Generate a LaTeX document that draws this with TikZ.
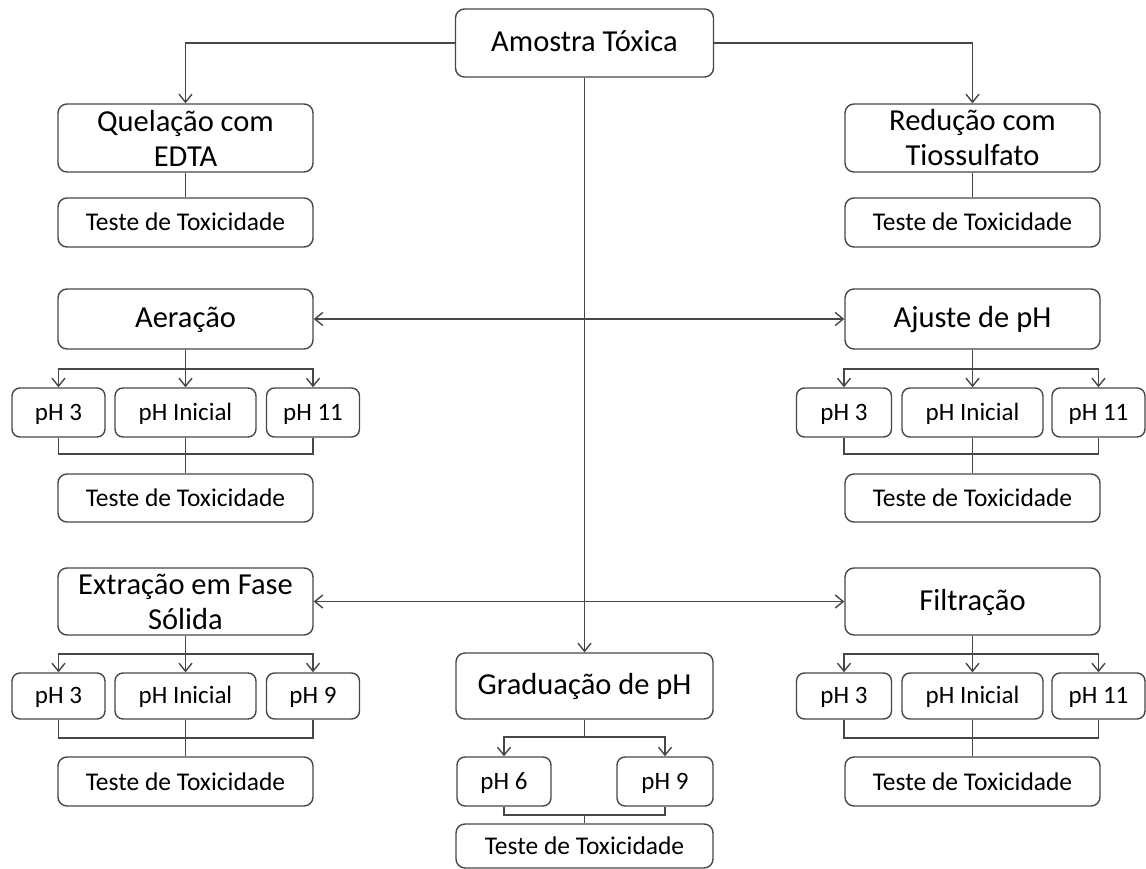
\documentclass[tikz,border=0pt]{standalone}
\usepackage{fontspec}
\setmainfont{Carlito}
\usetikzlibrary{arrows.meta}
\begin{document}
\begin{tikzpicture}[x=1pt,y=-1pt,
 box/.style={draw=black!72, line width=1.4pt, rounded corners=9pt, inner sep=0pt, align=center, text=black},
 big/.style={box, font=\fontsize{30.5}{35}\selectfont},
 bigone/.style={big, text height=21pt, text depth=4pt},
 small/.style={box, font=\fontsize{25.5}{30}\selectfont, text height=18pt, text depth=1pt},
 ph/.style={box, rounded corners=8pt, font=\fontsize{25}{29}\selectfont, text height=18pt, text depth=3pt},
 ln/.style={draw=black!72, line width=1.4pt},
 arr/.style={ln, -{Straight Barb[length=8pt,width=13pt]}},
 darr/.style={ln, {Straight Barb[length=8pt,width=13pt]}-{Straight Barb[length=8pt,width=13pt]}}
]
\useasboundingbox (0,0) rectangle (1146,869);

% top
\node[bigone, minimum width=258pt, minimum height=68pt] (am) at (584.5,43) {Amostra Tóxica};
\node[big, minimum width=255pt, minimum height=68pt] (quel) at (185.5,138) {Quelação com\\EDTA};
\node[small, minimum width=255pt, minimum height=49pt] (qt) at (185.5,222.5) {Teste de Toxicidade};
\node[big, minimum width=255pt, minimum height=68pt] (red) at (972.5,138) {Redução com\\Tiossulfato};
\node[small, minimum width=255pt, minimum height=49pt] (rt) at (972.5,222.5) {Teste de Toxicidade};

\draw[arr] (am.west) -| (quel.north);
\draw[arr] (am.east) -| (red.north);
\draw[ln] (quel.south) -- (qt.north);
\draw[ln] (red.south) -- (rt.north);

% Aeracao group
\node[bigone, minimum width=255pt, minimum height=60pt] (aer) at (185.5,319) {Aeração};
\node[ph, minimum width=93pt, minimum height=49pt] (aph3) at (58.5,412.5) {pH 3};
\node[ph, minimum width=141pt, minimum height=49pt] (aphi) at (185.5,412.5) {pH Inicial};
\node[ph, minimum width=93pt, minimum height=49pt] (aph11) at (313,412.5) {pH 11};
\node[small, minimum width=255pt, minimum height=48pt] (at) at (185.5,498) {Teste de Toxicidade};
\coordinate (ab) at (185.5,369);
\coordinate (ac) at (185.5,454);
\draw[arr] (aer.south) -- (aphi.north);
\draw[arr] (ab) -| (aph3.north);
\draw[arr] (ab) -| (aph11.north);
\draw[ln] (aph3.south) |- (ac) -| (aph11.south);
\draw[ln] (aphi.south) -- (at.north);

% Ajuste group
\node[bigone, minimum width=255pt, minimum height=60pt] (aju) at (972.5,319) {Ajuste de pH};
\node[ph, minimum width=95pt, minimum height=49pt] (bph3) at (844,412.5) {pH 3};
\node[ph, minimum width=141pt, minimum height=49pt] (bphi) at (972.5,412.5) {pH Inicial};
\node[ph, minimum width=93pt, minimum height=49pt] (bph11) at (1098.5,412.5) {pH 11};
\node[small, minimum width=255pt, minimum height=48pt] (bt) at (972.5,498) {Teste de Toxicidade};
\coordinate (bb) at (972.5,369);
\coordinate (bc) at (972.5,454);
\draw[arr] (aju.south) -- (bphi.north);
\draw[arr] (bb) -| (bph3.north);
\draw[arr] (bb) -| (bph11.north);
\draw[ln] (bph3.south) |- (bc) -| (bph11.south);
\draw[ln] (bphi.south) -- (bt.north);

\draw[darr] (aer.east) -- (aju.west);

% Extracao group
\node[big, minimum width=255pt, minimum height=67pt] (ext) at (185.5,601.5) {Extração em Fase\\Sólida};
\node[ph, minimum width=93pt, minimum height=46pt] (cph3) at (58.5,696) {pH 3};
\node[ph, minimum width=141pt, minimum height=46pt] (cphi) at (185.5,696) {pH Inicial};
\node[ph, minimum width=93pt, minimum height=46pt] (cph9) at (313,696) {pH 9};
\node[small, minimum width=255pt, minimum height=49pt] (ct) at (185.5,781.5) {Teste de Toxicidade};
\coordinate (cb) at (185.5,654);
\coordinate (cc) at (185.5,738);
\draw[arr] (ext.south) -- (cphi.north);
\draw[arr] (cb) -| (cph3.north);
\draw[arr] (cb) -| (cph9.north);
\draw[ln] (cph3.south) |- (cc) -| (cph9.south);
\draw[ln] (cphi.south) -- (ct.north);

% Filtracao group
\node[bigone, minimum width=255pt, minimum height=67pt] (fil) at (972.5,601.5) {Filtração};
\node[ph, minimum width=95pt, minimum height=46pt] (dph3) at (844,696) {pH 3};
\node[ph, minimum width=141pt, minimum height=46pt] (dphi) at (972.5,696) {pH Inicial};
\node[ph, minimum width=93pt, minimum height=46pt] (dph11) at (1098.5,696) {pH 11};
\node[small, minimum width=255pt, minimum height=49pt] (dt) at (972.5,781.5) {Teste de Toxicidade};
\coordinate (db) at (972.5,654);
\coordinate (dc) at (972.5,738);
\draw[arr] (fil.south) -- (dphi.north);
\draw[arr] (db) -| (dph3.north);
\draw[arr] (db) -| (dph11.north);
\draw[ln] (dph3.south) |- (dc) -| (dph11.south);
\draw[ln] (dphi.south) -- (dt.north);

\draw[darr] (ext.east) -- (fil.west);

% Graduacao group
\node[bigone, minimum width=257pt, minimum height=66pt] (gr) at (584.5,686) {Graduação de pH};
\node[ph, minimum width=94pt, minimum height=49pt] (gph6) at (504,781.5) {pH 6};
\node[ph, minimum width=96pt, minimum height=49pt] (gph9) at (665,781.5) {pH 9};
\node[small, minimum width=257pt, minimum height=44pt] (gt) at (584.5,846) {Teste de Toxicidade};
\coordinate (gb) at (584.5,737);
\coordinate (gc) at (584.5,815);
\draw[ln] (gr.south) -- (gb);
\draw[arr] (gb) -| (gph6.north);
\draw[arr] (gb) -| (gph9.north);
\draw[ln] (gph6.south) |- (gc) -| (gph9.south);
\draw[ln] (gc) -- (gt.north);

\draw[arr] (am.south) -- (gr.north);
\end{tikzpicture}
\end{document}
